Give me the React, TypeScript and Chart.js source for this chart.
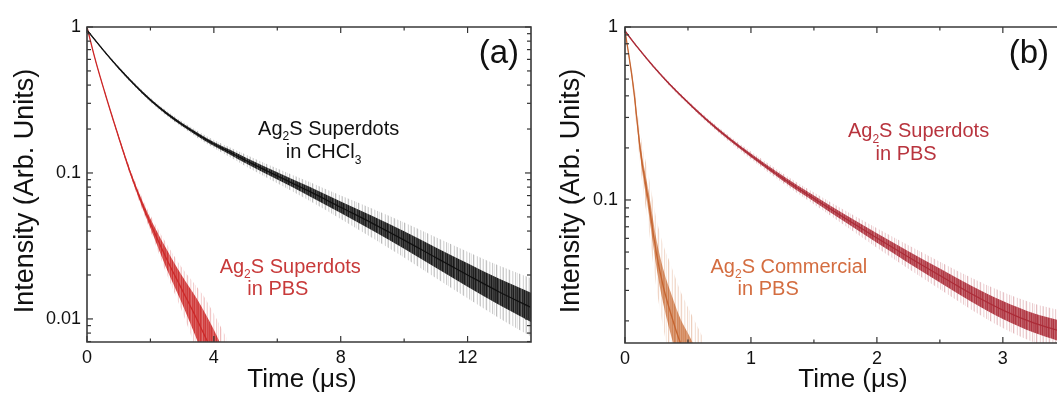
import React, { useEffect, useRef } from "react";
import { Chart, registerables } from "chart.js";

Chart.register(...registerables);

const FONT = "'Liberation Sans', Arial, Helvetica, sans-serif";

// ---------------- Panel (a) ----------------
const xTicksA = [0, 4, 8, 12];
const xMinorTicksA = [2, 6, 10];
const yTicksA = [0.01, 0.1, 1];
const xRangeA = [0, 14];
const yRangeA = [0.00695, 1];

// Ag2S Superdots in CHCl3 (black)
const chcl3Time = [0, 0.5, 1, 1.5, 2, 2.5, 3, 3.5, 4, 4.5, 5, 6, 7, 8, 9, 10, 11, 12, 13, 14];
const chcl3Intensity = [0.951, 0.7, 0.524, 0.402, 0.316, 0.257, 0.215, 0.183, 0.158, 0.139, 0.122, 0.0955, 0.075, 0.0582, 0.0452, 0.0347, 0.0263, 0.02, 0.0153, 0.012];
// half-width (decades) of the dense noise band and of the faint spikes
const chcl3Noise = [0.004, 0.005, 0.006, 0.007, 0.008, 0.009, 0.01, 0.012, 0.014, 0.017, 0.02, 0.025, 0.032, 0.04, 0.05, 0.06, 0.07, 0.08, 0.09, 0.1];
const chcl3Spikes = [0.008, 0.01, 0.012, 0.014, 0.016, 0.018, 0.02, 0.024, 0.028, 0.034, 0.04, 0.05, 0.064, 0.08, 0.1, 0.12, 0.14, 0.16, 0.18, 0.2];

// Ag2S Superdots in PBS (red, panel a)
const pbsATime = [0, 0.25, 0.55, 0.95, 1.37, 1.7, 2.0, 2.48, 3.0, 3.46, 3.7, 4.0, 4.4];
const pbsAIntensity = [1.0, 0.61, 0.363, 0.19, 0.1, 0.0646, 0.0452, 0.0266, 0.0158, 0.01, 0.00776, 0.00569, 0.00372];
const pbsANoise = [0.003, 0.004, 0.005, 0.008, 0.014, 0.022, 0.032, 0.065, 0.095, 0.14, 0.16, 0.17, 0.17];
const pbsASpikes = [0.006, 0.008, 0.01, 0.015, 0.025, 0.04, 0.055, 0.1, 0.15, 0.22, 0.26, 0.28, 0.3];

// ---------------- Panel (b) ----------------
const xTicksB = [0, 1, 2, 3];
const xMinorTicksB = [0.5, 1.5, 2.5];
const yTicksB = [0.1, 1];
const xRangeB = [0, 3.43];
const yRangeB = [0.0149, 1];

// Ag2S Superdots in PBS (crimson)
const sdPbsTime = [0, 0.1, 0.225, 0.35, 0.49, 0.65, 0.83, 1.0, 1.25, 1.5, 1.75, 2.0, 2.25, 2.5, 2.75, 3.0, 3.25, 3.45];
const sdPbsIntensity = [0.948, 0.762, 0.592, 0.47, 0.372, 0.29, 0.225, 0.181, 0.134, 0.102, 0.0782, 0.0603, 0.0468, 0.0366, 0.0287, 0.0231, 0.0194, 0.0175];
const sdPbsNoise = [0.004, 0.004, 0.005, 0.005, 0.006, 0.007, 0.009, 0.011, 0.014, 0.017, 0.022, 0.028, 0.034, 0.04, 0.046, 0.052, 0.056, 0.06];
const sdPbsSpikes = [0.008, 0.008, 0.01, 0.01, 0.012, 0.014, 0.018, 0.022, 0.028, 0.034, 0.044, 0.056, 0.068, 0.08, 0.092, 0.104, 0.112, 0.12];

// Ag2S Commercial in PBS (orange)
const comTime = [0, 0.03, 0.066, 0.125, 0.185, 0.25, 0.304, 0.36, 0.44, 0.5, 0.62];
const comIntensity = [0.95, 0.69, 0.452, 0.186, 0.1, 0.049, 0.0316, 0.0225, 0.0149, 0.012, 0.008];
const comNoise = [0.005, 0.01, 0.02, 0.04, 0.06, 0.08, 0.1, 0.12, 0.14, 0.15, 0.15];
const comSpikes = [0.01, 0.02, 0.05, 0.1, 0.15, 0.2, 0.24, 0.28, 0.3, 0.3, 0.3];

const yMinorMultipliers = [2, 3, 4, 5, 6, 7, 8, 9];

type Part = [string, boolean?];
type Label = { x: number; y: number; parts: Part[]; color: string };

const labelsA: Label[] = [
  { x: 5.395, y: 0.182, parts: [["Ag"], ["2", true], ["S Superdots"]], color: "#111" },
  { x: 6.268, y: 0.126, parts: [["in CHCl"], ["3", true]], color: "#111" },
  { x: 4.183, y: 0.02066, parts: [["Ag"], ["2", true], ["S Superdots"]], color: "#c83a3a" },
  { x: 5.055, y: 0.0146, parts: [["in PBS"]], color: "#c83a3a" },
];
const labelsB: Label[] = [
  { x: 1.77, y: 0.2298, parts: [["Ag"], ["2", true], ["S Superdots"]], color: "#b8343e" },
  { x: 1.989, y: 0.1692, parts: [["in PBS"]], color: "#b8343e" },
  { x: 0.679, y: 0.0379, parts: [["Ag"], ["2", true], ["S Commercial"]], color: "#d46d40" },
  { x: 0.894, y: 0.02824, parts: [["in PBS"]], color: "#d46d40" },
];

// streaky textures used to mimic the vertical noise spikes of the measured traces
const CORE_STREAKS = [0.95, 0.8, 1, 0.85, 0.7, 0.95, 0.8, 1, 0.75, 0.9, 0.85];
const HALO_STREAKS = [0.25, 0, 0.1, 0.35, 0.05, 0, 0.2, 0.1, 0, 0.3, 0.05, 0.15, 0, 0.4, 0.1, 0, 0.05, 0.25, 0, 0.15, 0.3, 0, 0.1];

function streaks(rgb: string, alphas: number[], scale: number) {
  const c = document.createElement("canvas");
  c.width = alphas.length;
  c.height = 4;
  const g = c.getContext("2d")!;
  alphas.forEach((a, i) => {
    g.fillStyle = `rgba(${rgb},${Math.min(1, a * scale)})`;
    g.fillRect(i, 0, 1, 4);
  });
  return g.createPattern(c, "repeat")!;
}

function band(time: number[], mid: number[], noise: number[], spikes: number[], c: { rgb: string; line: string; core: number; halo: number }) {
  const pts = (sign: number, w: number[]) => time.map((t, i) => ({ x: t, y: mid[i] * Math.pow(10, sign * w[i]) }));
  const common = { pointRadius: 0, borderWidth: 0, borderColor: "rgba(0,0,0,0)", cubicInterpolationMode: "monotone" as const };
  return [
    { ...common, data: pts(1, spikes), fill: false, order: 3 },
    { ...common, data: pts(-1, spikes), fill: "-1", backgroundColor: streaks(c.rgb, HALO_STREAKS, c.halo), order: 3 },
    { ...common, data: pts(1, noise), fill: false, order: 2 },
    { ...common, data: pts(-1, noise), fill: "-1", backgroundColor: streaks(c.rgb, CORE_STREAKS, c.core), order: 2 },
    {
      data: time.map((t, i) => ({ x: t, y: mid[i] })),
      pointRadius: 0,
      borderWidth: 1.3,
      borderColor: c.line,
      fill: false,
      order: 1,
      cubicInterpolationMode: "monotone" as const,
    },
  ];
}

function drawRich(ctx: CanvasRenderingContext2D, x: number, y: number, parts: Part[], size: number, color: string) {
  ctx.fillStyle = color;
  ctx.textAlign = "left";
  ctx.textBaseline = "alphabetic";
  let cx = x;
  for (const [txt, sub] of parts) {
    const fs = sub ? Math.round(size * 0.62) : size;
    ctx.font = `${fs}px ${FONT}`;
    ctx.fillText(txt, cx, sub ? y + size * 0.26 : y);
    cx += ctx.measureText(txt).width;
  }
}

type PanelCfg = {
  xMinor: number[];
  rightSpine: boolean;
  labels: Label[];
  panelTag: string;
  tagRightOffset: number;
  yTitleX: number;
  xTitleX: number;
};

function decoPlugin(cfg: PanelCfg) {
  return {
    id: "deco",
    afterDatasetsDraw(chart: any) {
      const { ctx, chartArea: a, scales } = chart;
      const xs = scales.x;
      const ys = scales.y;
      ctx.save();
      ctx.strokeStyle = "#333";
      ctx.lineWidth = 1.2;
      const seg = (x1: number, y1: number, x2: number, y2: number) => {
        ctx.beginPath();
        ctx.moveTo(x1, y1);
        ctx.lineTo(x2, y2);
        ctx.stroke();
      };
      const xTick = (v: number, len: number) => {
        const px = xs.getPixelForValue(v);
        seg(px, a.bottom, px, a.bottom - len);
        seg(px, a.top, px, a.top + len);
      };
      xs.ticks.forEach((t: any) => xTick(t.value, 6));
      cfg.xMinor.forEach((v) => xTick(v, 3.5));
      const yTick = (v: number, len: number) => {
        const py = ys.getPixelForValue(v);
        seg(a.left, py, a.left + len, py);
        if (cfg.rightSpine) seg(a.right, py, a.right - len, py);
      };
      ys.ticks.forEach((t: any) => yTick(t.value, 6));
      const d0 = Math.floor(Math.log10(ys.min));
      for (let d = d0; d < 0; d++) {
        yMinorMultipliers.forEach((m) => {
          const v = m * Math.pow(10, d);
          if (v > ys.min && v < ys.max) yTick(v, 4);
        });
      }
      ctx.lineWidth = 1.6;
      ctx.strokeStyle = "#3a3a3a";
      ctx.beginPath();
      if (cfg.rightSpine) {
        ctx.rect(a.left, a.top, a.right - a.left, a.bottom - a.top);
      } else {
        ctx.moveTo(a.right + 2, a.top);
        ctx.lineTo(a.left, a.top);
        ctx.lineTo(a.left, a.bottom);
        ctx.lineTo(a.right + 2, a.bottom);
      }
      ctx.stroke();
      cfg.labels.forEach((l) => drawRich(ctx, xs.getPixelForValue(l.x), ys.getPixelForValue(l.y), l.parts, 20, l.color));
      ctx.font = `33px ${FONT}`;
      ctx.fillStyle = "#111";
      ctx.textAlign = "right";
      ctx.textBaseline = "alphabetic";
      ctx.fillText(cfg.panelTag, a.right - cfg.tagRightOffset, a.top + 36);
      ctx.textAlign = "center";
      ctx.font = `26px ${FONT}`;
      ctx.fillText("Time (\u03BCs)", cfg.xTitleX, 387);
      ctx.save();
      ctx.translate(cfg.yTitleX, 191);
      ctx.rotate(-Math.PI / 2);
      ctx.font = `27px ${FONT}`;
      ctx.fillText("Intensity (Arb. Units)", 0, 0);
      ctx.restore();
      ctx.restore();
    },
  };
}

function makeOptions(xr: number[], yr: number[], xt: number[], yt: number[], yWidth: number, xHeight: number, rightPad: number, yPad: number) {
  return {
    animation: false as const,
    responsive: false,
    devicePixelRatio: 1,
    layout: { padding: { left: 0, top: 27, right: rightPad, bottom: 0 } },
    plugins: { legend: { display: false }, tooltip: { enabled: false } },
    scales: {
      x: {
        type: "linear" as const,
        min: xr[0],
        max: xr[1],
        grid: { display: false, drawTicks: false },
        border: { display: false },
        ticks: { font: { family: FONT, size: 18 }, color: "#111", padding: 5, maxRotation: 0 },
        afterBuildTicks: (s: any) => {
          s.ticks = xt.map((v) => ({ value: v }));
        },
        afterFit: (s: any) => {
          s.height = xHeight;
        },
      },
      y: {
        type: "logarithmic" as const,
        min: yr[0],
        max: yr[1],
        grid: { display: false, drawTicks: false },
        border: { display: false },
        ticks: {
          font: { family: FONT, size: 18 },
          color: "#111",
          padding: yPad,
          callback: (v: any) => String(v),
        },
        afterBuildTicks: (s: any) => {
          s.ticks = yt.map((v) => ({ value: v }));
        },
        afterFit: (s: any) => {
          s.width = yWidth;
        },
      },
    },
  };
}

export default function App() {
  const refA = useRef<HTMLCanvasElement>(null);
  const refB = useRef<HTMLCanvasElement>(null);

  useEffect(() => {
    const chartA = new Chart(refA.current!, {
      type: "line",
      data: {
        datasets: [
          ...band(chcl3Time, chcl3Intensity, chcl3Noise, chcl3Spikes, { rgb: "15,15,15", line: "#111", core: 0.95, halo: 0.7 }),
          ...band(pbsATime, pbsAIntensity, pbsANoise, pbsASpikes, { rgb: "205,45,45", line: "rgb(205,40,40)", core: 0.95, halo: 0.8 }),
        ] as any,
      },
      options: makeOptions(xRangeA, yRangeA, xTicksA, yTicksA, 87, 52, 9, 6) as any,
      plugins: [
        decoPlugin({
          xMinor: xMinorTicksA,
          rightSpine: true,
          labels: labelsA,
          panelTag: "(a)",
          tagRightOffset: 12,
          yTitleX: 33,
          xTitleX: 302,
        }),
      ],
    });
    const chartB = new Chart(refB.current!, {
      type: "line",
      data: {
        datasets: [
          ...band(comTime, comIntensity, comNoise, comSpikes, { rgb: "200,105,50", line: "rgba(196,98,45,0.95)", core: 0.8, halo: 0.8 }),
          ...band(sdPbsTime, sdPbsIntensity, sdPbsNoise, sdPbsSpikes, { rgb: "172,44,56", line: "rgb(172,44,56)", core: 0.95, halo: 0.8 }),
        ] as any,
      },
      options: makeOptions(xRangeB, yRangeB, xTicksB, yTicksB, 85, 51, 0, 7) as any,
      plugins: [
        decoPlugin({
          xMinor: xMinorTicksB,
          rightSpine: false,
          labels: labelsB,
          panelTag: "(b)",
          tagRightOffset: 8,
          yTitleX: 39,
          xTitleX: 313,
        }),
      ],
    });
    return () => {
      chartA.destroy();
      chartB.destroy();
    };
  }, []);

  return (
    <div style={{ position: "fixed", left: 0, top: 0, width: 1057, height: 394, background: "#fff", overflow: "hidden" }}>
      <canvas ref={refA} width={540} height={394} style={{ position: "absolute", left: 0, top: 0, width: 540, height: 394 }} />
      <canvas ref={refB} width={517} height={394} style={{ position: "absolute", left: 540, top: 0, width: 517, height: 394 }} />
    </div>
  );
}
